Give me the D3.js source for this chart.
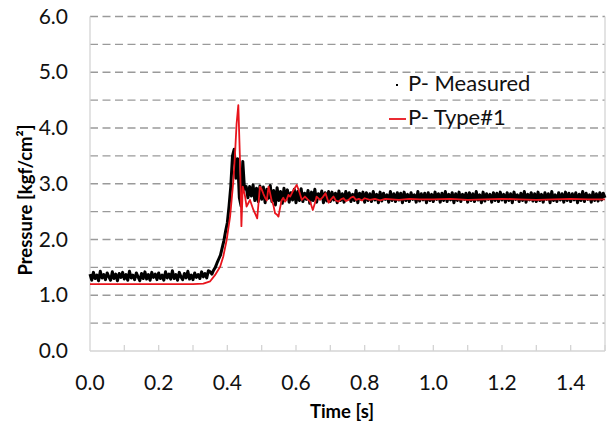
<!DOCTYPE html>
<html>
<head>
<meta charset="utf-8">
<script src="https://cdn.jsdelivr.net/npm/d3@7"></script>
<style>
  body { margin: 0; background: #fff; }
  svg { font-family: Lato, "Open Sans", sans-serif; }
</style>
</head>
<body>
<div id="chart"></div>
<script>
var width = 614;
var height = 427;

// measured pressure, sampled every 0.005 s from t = 0
var measuredDt = 0.005;
var measuredP = [
  1.38,1.27,1.41,1.30,1.36,1.26,1.43,1.31,1.37,1.28,1.40,1.33,1.27,1.42,1.30,1.38,1.26,1.39,1.32,1.41,
  1.29,1.37,1.27,1.43,1.31,1.36,1.28,1.40,1.33,1.26,1.39,1.30,1.42,1.29,1.37,1.27,1.41,1.32,1.38,1.28,
  1.40,1.30,1.36,1.27,1.42,1.31,1.38,1.29,1.44,1.30,1.37,1.27,1.41,1.33,1.28,1.39,1.31,1.43,1.29,1.36,
  1.28,1.40,1.32,1.37,1.30,1.42,1.33,1.39,1.31,1.44,1.42,1.38,1.45,1.50,1.58,1.65,1.72,1.85,1.98,2.15,
  2.30,2.60,2.95,3.50,3.62,3.10,3.45,2.75,2.60,3.40,2.90,2.95,2.75,2.95,2.78,2.98,2.70,2.92,2.68,2.96,
  2.72,2.94,2.66,2.90,2.74,2.97,2.68,2.88,2.62,2.93,2.70,2.86,2.65,2.92,2.73,2.89,2.67,2.84,2.71,2.90,
  2.66,2.86,2.70,2.91,2.68,2.83,2.72,2.88,2.65,2.85,2.70,2.90,2.67,2.82,2.74,2.87,2.66,2.84,2.69,2.86,
  2.68,2.85,2.71,2.83,2.66,2.87,2.70,2.82,2.67,2.86,2.73,2.84,2.68,2.81,2.70,2.88,2.66,2.83,2.72,2.85,
  2.67,2.84,2.70,2.82,2.68,2.86,2.71,2.81,2.66,2.85,2.69,2.83,2.72,2.80,2.67,2.86,2.70,2.82,2.68,2.84,
  2.71,2.83,2.66,2.85,2.70,2.81,2.68,2.84,2.72,2.80,2.67,2.86,2.69,2.82,2.71,2.83,2.66,2.84,2.70,2.81,
  2.68,2.85,2.72,2.82,2.67,2.83,2.70,2.86,2.68,2.81,2.71,2.84,2.66,2.82,2.70,2.85,2.68,2.81,2.72,2.83,
  2.67,2.84,2.70,2.82,2.68,2.86,2.71,2.80,2.66,2.85,2.69,2.82,2.72,2.81,2.67,2.84,2.70,2.83,2.68,2.85,
  2.71,2.81,2.67,2.84,2.70,2.82,2.66,2.85,2.72,2.80,2.68,2.83,2.70,2.86,2.67,2.81,2.71,2.84,2.69,2.82,
  2.68,2.85,2.70,2.81,2.67,2.84,2.72,2.82,2.66,2.86,2.70,2.80,2.68,2.84,2.71,2.82,2.67,2.85,2.70,2.83,
  2.68,2.82,2.71,2.84,2.66,2.81,2.70,2.86,2.68,2.83,2.72,2.80,2.67,2.85,2.70,2.82,2.69,2.84,2.71,2.83,
  2.75
];

// simulated pressure (Type#1)
var typeT = [
  0.000,0.300,0.330,0.350,0.364,0.379,0.388,0.398,0.408,0.417,0.422,0.427,0.432,0.437,0.441,0.445,
  0.451,0.456,0.461,0.466,0.471,0.476,0.482,0.487,0.495,0.500,0.505,0.510,0.515,0.520,0.524,0.529,
  0.534,0.539,0.544,0.549,0.553,0.558,0.563,0.568,0.573,0.578,0.583,0.592,0.602,0.610,0.617,0.626,
  0.634,0.641,0.649,0.655,0.660,0.670,0.678,0.686,0.695,0.702,0.709,0.716,0.724,0.731,0.738,0.746,
  0.753,0.760,0.767,0.775,0.783,0.792,0.800,0.815,0.830,0.845,0.860,0.880,0.900,0.930,0.960,1.000,
  1.050,1.100,1.150,1.200,1.250,1.300,1.350,1.400,1.450,1.500
];
var typeP = [
  1.20,1.20,1.21,1.25,1.36,1.51,1.69,1.99,2.41,3.01,3.49,4.08,4.41,3.40,2.24,2.95,
  2.80,2.59,2.65,2.71,2.62,2.53,2.45,2.38,2.95,2.90,2.82,2.75,2.70,2.95,2.85,2.70,
  2.62,2.47,2.45,2.41,2.55,2.70,2.75,2.68,2.72,2.80,2.77,2.88,2.98,2.85,2.71,2.77,
  2.72,2.68,2.53,2.65,2.77,2.71,2.76,2.83,2.66,2.72,2.77,2.70,2.68,2.72,2.74,2.69,
  2.71,2.75,2.77,2.71,2.73,2.70,2.74,2.71,2.73,2.70,2.73,2.72,2.71,2.73,2.72,2.72,
  2.73,2.71,2.72,2.73,2.72,2.71,2.72,2.73,2.72,2.72
];

var xTicks = [0.0, 0.2, 0.4, 0.6, 0.8, 1.0, 1.2, 1.4];
var xMinorTicks = [0.1, 0.2, 0.3, 0.4, 0.5, 0.6, 0.7, 0.8, 0.9, 1.0, 1.1, 1.2, 1.3, 1.4, 1.5];
var yTicks = [0.0, 1.0, 2.0, 3.0, 4.0, 5.0, 6.0];
var yGrid = [0.5, 1.0, 1.5, 2.0, 2.5, 3.0, 3.5, 4.0, 4.5, 5.0, 5.5, 6.0];

var legendLabels = ["P- Measured", "P- Type#1"];

var margin = {left: 90, right: 9, top: 16.5, bottom: 76};

var svg = d3.select("#chart")
    .append("svg")
    .attr("width", width)
    .attr("height", height)

var x = d3.scaleLinear().domain([0, 1.5]).range([margin.left, width - margin.right]);
var y = d3.scaleLinear().domain([0, 6]).range([height - margin.bottom, margin.top]);

// dashed grid
svg.append('g').selectAll('line').data(yGrid)
    .enter().append('line')
    .attr('x1', x(0)).attr('x2', x(1.5))
    .attr('y1', d => y(d)).attr('y2', d => y(d))
    .attr('stroke', '#9a9a9a')
    .attr('stroke-width', 1.3)
    .attr('stroke-dasharray', '8,4.5')

// plot frame: left, bottom, right
var frame = svg.append('g').attr('stroke', '#d4d4d4').attr('stroke-width', 1.3)
frame.append('line').attr('x1', x(0)).attr('x2', x(0)).attr('y1', y(0)).attr('y2', y(6))
frame.append('line').attr('x1', x(1.5)).attr('x2', x(1.5)).attr('y1', y(0)).attr('y2', y(6))
frame.append('line').attr('x1', x(0)).attr('x2', x(1.5)).attr('y1', y(0)).attr('y2', y(0))
frame.selectAll('line.tick').data(xMinorTicks)
    .enter().append('line')
    .attr('class', 'tick')
    .attr('x1', d => x(d)).attr('x2', d => x(d))
    .attr('y1', y(0)).attr('y2', y(0) - 6)

// tick labels
svg.append('g').selectAll('text').data(yTicks)
    .enter().append('text')
    .attr('x', 68)
    .attr('y', d => y(d) + 7)
    .attr('text-anchor', 'end')
    .attr('font-size', 21)
    .attr('fill', '#111')
    .text(d => d.toFixed(1))

svg.append('g').selectAll('text').data(xTicks)
    .enter().append('text')
    .attr('x', d => x(d))
    .attr('y', 390)
    .attr('text-anchor', 'middle')
    .attr('font-size', 21)
    .attr('fill', '#111')
    .text(d => d.toFixed(1))

// axis titles
svg.append('text')
    .attr('x', 342).attr('y', 418)
    .attr('text-anchor', 'middle')
    .attr('font-size', 18.5)
    .attr('font-weight', 'bold')
    .text('Time [s]')

svg.append('text')
    .attr('transform', 'translate(32,200) rotate(-90)')
    .attr('text-anchor', 'middle')
    .attr('font-size', 18.5)
    .attr('font-weight', 'bold')
    .text('Pressure [kgf/cm²]')

// series
var measuredLine = d3.line()
    .x((d, i) => x(i * measuredDt))
    .y(d => y(d))

svg.append('path')
    .datum(measuredP)
    .attr('d', measuredLine)
    .attr('fill', 'none')
    .attr('stroke', '#000')
    .attr('stroke-width', 3)
    .attr('stroke-linejoin', 'round')

var typeLine = d3.line()
    .x(d => x(d[0]))
    .y(d => y(d[1]))

svg.append('path')
    .datum(typeT.map((t, i) => [t, typeP[i]]))
    .attr('d', typeLine)
    .attr('fill', 'none')
    .attr('stroke', '#e8141c')
    .attr('stroke-width', 1.8)
    .attr('stroke-linejoin', 'round')

// legend
var legend = svg.append('g')
legend.append('rect')
    .attr('x', 396).attr('y', 84).attr('width', 2).attr('height', 2)
    .attr('fill', '#000')
legend.append('line')
    .attr('x1', 389).attr('x2', 406).attr('y1', 119).attr('y2', 119)
    .attr('stroke', '#e8141c').attr('stroke-width', 1.8)
legend.selectAll('text').data(legendLabels)
    .enter().append('text')
    .attr('x', 408)
    .attr('y', (d, i) => 91 + i * 34)
    .attr('font-size', 22)
    .attr('fill', '#111')
    .text(d => d)
</script>
</body>
</html>
